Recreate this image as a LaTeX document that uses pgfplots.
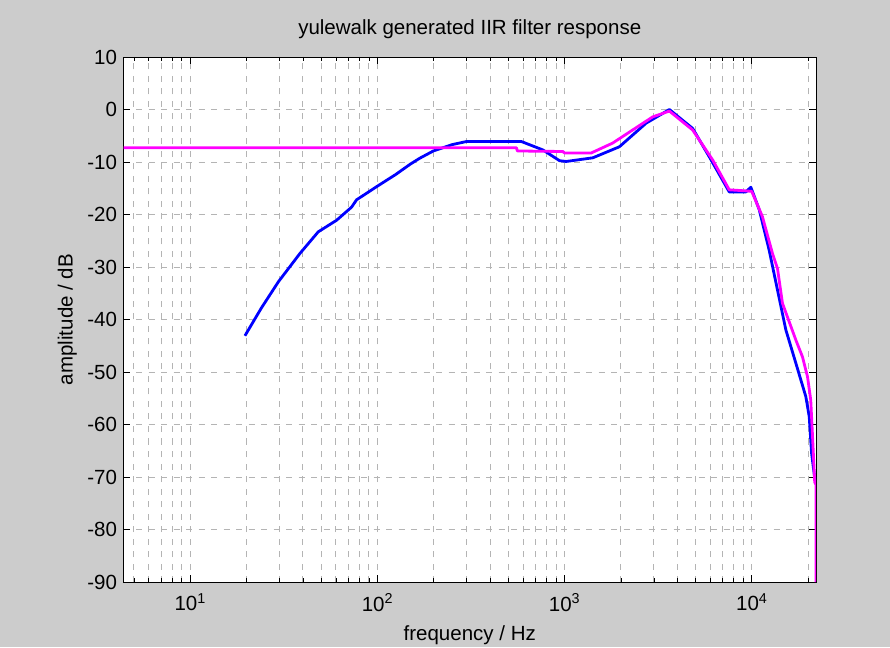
\documentclass[border=0pt]{standalone}
\usepackage{pgfplots}
\pgfplotsset{compat=1.18}
\usepackage{fontspec}
\setmainfont{Liberation Sans}
\definecolor{figbg}{RGB}{204,204,204}
\definecolor{gridc}{RGB}{180,180,180}
\definecolor{mblue}{RGB}{0,0,255}
\definecolor{mmag}{RGB}{255,0,255}
\begin{document}
\begin{tikzpicture}[x=1pt,y=1pt]
\fill[figbg] (0,0) rectangle (890,647);
\begin{axis}[
  at={(123.5pt,65pt)}, anchor=south west,
  scale only axis, width=692.5pt, height=525pt,
  xmode=log, log basis x=10,
  xmin=4.4, xmax=22050, ymin=-90, ymax=10,
  ytick={-90,-80,-70,-60,-50,-40,-30,-20,-10,0,10},
  xtick={10,100,1000,10000},
  xticklabels={10\textsuperscript{1},10\textsuperscript{2},10\textsuperscript{3},10\textsuperscript{4}},
  minor xtick={5,6,7,8,9,20,30,40,50,60,70,80,90,200,300,400,500,600,700,800,900,2000,3000,4000,5000,6000,7000,8000,9000,20000},
  grid=both,
  major grid style={gridc, dash pattern=on 6pt off 6.5pt, line width=0.9pt},
  minor grid style={gridc, dash pattern=on 6pt off 6.5pt, line width=0.9pt},
  tick align=inside, major tick length=7pt, minor tick length=4pt,
  tick style={black, line width=0.6pt},
  axis line style={black, line width=0.9pt},
  axis background/.style={fill=white},
  /pgf/number format/assume math mode=true,
  every tick label/.append style={font=\fontsize{20.5}{24}\selectfont},
  xticklabel style={yshift=-8pt},
  yticklabel style={xshift=-3pt},
  label style={font=\fontsize{20.5}{24}\selectfont},
  title style={font=\fontsize{20.5}{24}\selectfont, at={(axis description cs:0.5,1.042)}, anchor=center},
  xlabel style={at={(axis description cs:0.5,-0.101)}, anchor=center},
  ylabel style={at={(axis description cs:-0.081,0.5)}, anchor=center},
  title={yulewalk generated IIR filter response},
  xlabel={frequency / Hz},
  ylabel={amplitude / dB},
]
\addplot[mblue, line width=2.8pt, line join=round] coordinates {
(19.6,-43.1) (24,-37.8) (29.6,-32.8) (38.6,-27.4) (48.3,-23.3) (60.5,-21.1)
(72.8,-18.6) (77.4,-17.2) (100,-14.6) (125,-12.4) (150,-10.4) (168,-9.3) (199,-7.9)
(250,-6.7) (299,-6.1) (588,-6.1) (766,-7.7) (940,-9.75) (1020,-9.9)
(1416,-9.2) (1963,-7.1) (2728,-2.6) (3631,0.0) (4833,-3.6) (5930,-9.0)
(7585,-15.7) (9305,-15.7) (9890,-14.8) (10970,-19.1) (12390,-26.8)
(13730,-34.4) (15220,-42.0) (17200,-48.3) (19460,-54.7) (20280,-58.5)
(20880,-65.5) (21770,-70.6)
};
\addplot[mmag, line width=2.8pt, line join=round] coordinates {
(4.4,-7.3) (553,-7.3) (560,-7.9) (980,-8.0) (1000,-8.3) (1384,-8.3)
(1806,-6.4) (2311,-3.9) (2958,-1.4) (3631,-0.3) (4833,-3.9) (6180,-9.6)
(7585,-15.3) (9305,-15.5) (10000,-15.6) (11400,-20.4) (12900,-27.4)
(13730,-30.3) (14590,-36.9) (17200,-43.9) (18660,-47.1) (19860,-50.9)
(20660,-55.3) (21090,-61.7) (21700,-71.0) (22050,-71.5) (22050,-90)
};
\end{axis}
\end{tikzpicture}
\end{document}
